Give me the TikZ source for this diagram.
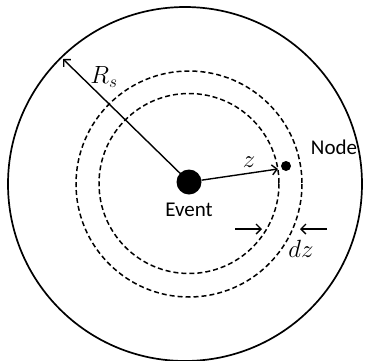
\documentclass[tikz,border=0pt]{standalone}
\usepackage{fontspec}
\setmainfont{Carlito}
\usetikzlibrary{arrows.meta}

\begin{document}
\begin{tikzpicture}[x=1pt, y=-1pt,
      ring/.style={draw=black, line width=1.7pt},
      shell/.style={draw=black, line width=1.5pt, dash pattern=on 5pt off 3pt},
      dot/.style={circle, fill=black, inner sep=0pt},
      ray/.style={-{Straight Barb[length=5pt, width=10pt]}, line width=1.4pt},
      etq/.style={font=\fontsize{21}{24}\selectfont, inner sep=1pt},
      mth/.style={font=\fontsize{24}{27}\selectfont, inner sep=1pt}
    ]
    \useasboundingbox (0,0) rectangle (365,360);
    \draw[ring]  (185,184) circle (177);
    \draw[shell] (189,184) circle (113);
    \draw[shell] (189,183.5) circle (90);
    \node[dot, minimum size=25pt] (event) at (189,182) {};
    \node[dot, minimum size=10pt] (node) at (286,166) {};
    \coordinate (rim)  at (63,59);
    \coordinate (zend) at (278,169);
    \coordinate (dzl) at (235,229);
    \coordinate (dzli) at (262,229);
    \coordinate (dzr) at (327,229);
    \coordinate (dzri) at (300,229);
    \draw[ray] (event.center) -- (rim);
    \draw[ray] (event) -- (zend);
    \draw[ray] (dzl) -- (dzli);
    \draw[ray] (dzr) -- (dzri);
    \node[mth] (lRs) at (104,77) {$R_s$};
    \node[mth] (lz) at (249,162) {$z$};
    \node[mth] (ldz) at (301,249) {$dz$};
    \node[etq] (lnode) at (334,147) {Node};
    \node[etq] (levent) at (189,210) {Event};
  \end{tikzpicture}
\end{document}
